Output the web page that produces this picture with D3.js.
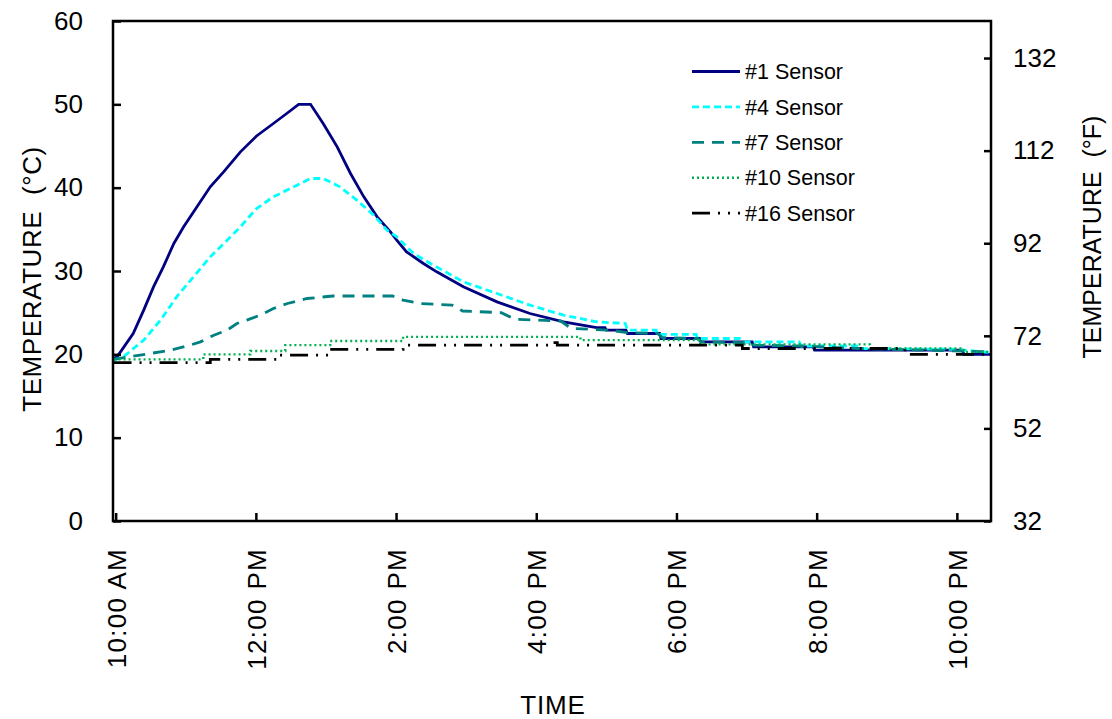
<!DOCTYPE html>
<html>
<head>
<meta charset="utf-8">
<script src="https://cdn.jsdelivr.net/npm/d3@7"></script>
<style>
  body { margin: 0; background: #fff; }
  text { font-family: "Liberation Sans", Arial, sans-serif; fill: #000; }
</style>
</head>
<body>
<svg id="chart" width="1112" height="719"></svg>
<script>
// Time is in hours since midnight; temperatures in °C.
const timeTicks = [10, 12, 14, 16, 18, 20, 22];
const timeLabels = ["10:00 AM", "12:00 PM", "2:00 PM", "4:00 PM", "6:00 PM", "8:00 PM", "10:00 PM"];
const celsiusTicks = [0, 10, 20, 30, 40, 50, 60];
const fahrenheitTicks = [32, 52, 72, 92, 112, 132];
const sensorNames = ["#1 Sensor", "#4 Sensor", "#7 Sensor", "#10 Sensor", "#16 Sensor"];

const sensor1 = [[9.97,19.5],[10.02,19.7],[10.25,22.5],[10.40,25.3],[10.54,28.1],[10.68,30.5],[10.83,33.3],
  [10.97,35.3],[11.16,37.7],[11.35,40.1],[11.54,41.9],[11.78,44.3],[12.01,46.2],[12.25,47.7],[12.44,48.9],
  [12.61,50.0],[12.78,50.0],[12.96,47.7],[13.16,44.9],[13.35,41.7],[13.54,38.9],[13.73,36.5],[13.92,34.7],
  [14.01,33.7],[14.15,32.3],[14.39,30.9],[14.58,29.9],[14.96,28.1],[15.44,26.3],[15.91,24.9],[16.39,23.9],
  [16.86,23.2],[16.98,23.2],[17.00,22.9],[17.28,22.9],[17.30,22.5],[17.76,22.5],[17.78,21.9],[18.33,21.9],
  [18.35,21.5],[19.08,21.5],[19.10,20.9],[19.95,20.9],[19.97,20.5],[22.08,20.5],[22.10,20.0],[22.49,20.0]];

const sensor4 = [[9.97,19.3],[10.11,19.7],[10.40,21.7],[10.64,24.1],[10.87,26.9],[11.11,29.3],[11.35,31.7],
  [11.59,33.7],[11.78,35.3],[12.01,37.5],[12.25,38.9],[12.49,39.9],[12.78,41.1],[12.96,41.1],[13.20,40.1],
  [13.44,38.5],[13.68,36.7],[13.87,34.9],[14.01,34.1],[14.25,32.1],[14.49,30.9],[14.96,28.7],[15.44,27.3],
  [15.91,25.9],[16.39,24.7],[16.86,23.9],[17.27,23.7],[17.30,22.9],[17.71,22.9],[17.73,22.4],[18.28,22.4],
  [18.30,21.9],[18.90,21.9],[18.95,21.5],[19.75,21.5],[19.78,21.0],[20.60,21.0],[20.63,20.7],[22.00,20.6],
  [22.49,20.2]];

const sensor7 = [[9.97,19.4],[10.49,20.1],[10.78,20.5],[11.06,21.1],[11.21,21.5],[11.40,22.3],[11.59,22.9],
  [11.73,23.7],[11.87,24.1],[12.06,24.7],[12.25,25.5],[12.45,26.1],[12.73,26.7],[13.10,27.0],[13.95,27.0],
  [14.10,26.5],[14.35,26.1],[14.80,25.9],[14.95,25.2],[15.50,25.0],[15.70,24.2],[16.35,24.0],[16.50,23.1],
  [17.05,22.9],[17.30,22.6],[17.73,22.5],[17.80,22.0],[18.30,21.9],[18.35,21.5],[19.05,21.4],[19.10,21.1],
  [19.80,21.0],[20.60,20.7],[21.50,20.5],[22.49,20.3]];

const sensor10 = [[9.97,19.4],[11.25,20.0],[11.92,20.4],[12.42,21.1],[13.06,21.6],[14.10,22.1],[16.63,21.7],
  [18.34,21.2],[20.76,20.7],[22.10,20.3],[22.49,20.3]];

const sensor16 = [[9.97,19.0],[11.35,19.4],[12.32,19.9],[13.06,20.6],[14.10,21.1],[16.22,21.4],[16.30,21.1],
  [18.94,20.7],[21.26,20.0],[22.49,20.0]];

const series = [
  { name: sensorNames[0], data: sensor1,  color: "#000080", dash: null,           curve: d3.curveLinear,    width: 2.8 },
  { name: sensorNames[1], data: sensor4,  color: "#00ffff", dash: "7,4",          curve: d3.curveLinear,    width: 2.8 },
  { name: sensorNames[2], data: sensor7,  color: "#008080", dash: "12,8",         curve: d3.curveLinear,    width: 2.8 },
  { name: sensorNames[3], data: sensor10, color: "#00b050", dash: "2,3",          curve: d3.curveStepAfter, width: 2.4 },
  { name: sensorNames[4], data: sensor16, color: "#000000", dash: "18,8,2,8,2,8", curve: d3.curveStepAfter, width: 2.8 }
];

const plot = { left: 113, right: 991, top: 21, bottom: 521 };
const svg = d3.select("#chart");

const x = d3.scaleLinear().domain([9.962, 22.487]).range([plot.left, plot.right]);
const y = d3.scaleLinear().domain([0, 60]).range([plot.bottom, plot.top]);
const yF = d3.scaleLinear().domain([32, 140]).range([plot.bottom, plot.top]);

// clip for data lines
svg.append("defs").append("clipPath").attr("id", "plotClip")
  .append("rect").attr("x", plot.left).attr("y", plot.top)
  .attr("width", plot.right - plot.left).attr("height", plot.bottom - plot.top);

// data lines
const line = d3.line().x(d => x(d[0])).y(d => y(d[1]));
const lines = svg.append("g").attr("clip-path", "url(#plotClip)");
series.forEach(s => {
  lines.append("path")
    .datum(s.data)
    .attr("fill", "none")
    .attr("stroke", s.color)
    .attr("stroke-width", s.width)
    .attr("stroke-dasharray", s.dash)
    .attr("d", line.curve(s.curve));
});

// plot frame
svg.append("rect").attr("x", plot.left).attr("y", plot.top)
  .attr("width", plot.right - plot.left).attr("height", plot.bottom - plot.top)
  .attr("fill", "none").attr("stroke", "#000").attr("stroke-width", 2.5);

function styleAxis(g) {
  g.select(".domain").remove();
  g.selectAll(".tick line").attr("stroke", "#000").attr("stroke-width", 2.5);
  g.selectAll(".tick text").attr("font-size", 26).attr("font-family", "'Liberation Sans', Arial, sans-serif");
}

// left °C axis
svg.append("g").attr("transform", `translate(${plot.left},0)`)
  .call(d3.axisLeft(y).tickValues(celsiusTicks).tickSize(-8).tickPadding(30).tickFormat(d3.format("d")))
  .call(styleAxis);

// right °F axis
svg.append("g").attr("transform", `translate(${plot.right},0)`)
  .call(d3.axisRight(yF).tickValues(fahrenheitTicks).tickSize(-7).tickPadding(22).tickFormat(d3.format("d")))
  .call(styleAxis);

// bottom time axis
const xAxis = svg.append("g").attr("transform", `translate(0,${plot.bottom})`)
  .call(d3.axisBottom(x).tickValues(timeTicks).tickSize(-8).tickFormat((d, i) => timeLabels[i]))
  .call(styleAxis);
xAxis.selectAll(".tick text")
  .attr("transform", "rotate(-90)")
  .attr("text-anchor", "end")
  .attr("x", -27)
  .attr("y", 0)
  .attr("dy", "0.36em")
  .attr("font-size", 26)
  .attr("letter-spacing", "1.3");

// axis titles
svg.append("text").attr("transform", "translate(41,279) rotate(-90)")
  .attr("text-anchor", "middle").attr("font-size", 26).attr("letter-spacing", "0.6")
  .attr("xml:space", "preserve")
  .text("TEMPERATURE  (°C)");
svg.append("text").attr("transform", "translate(1101,237) rotate(-90)")
  .attr("text-anchor", "middle").attr("font-size", 25).attr("xml:space", "preserve")
  .text("TEMPERATURE  (°F)");
svg.append("text").attr("x", 553).attr("y", 705).attr("dy", "0.35em")
  .attr("text-anchor", "middle").attr("font-size", 26).attr("letter-spacing", "0.8").text("TIME");

// legend
const legend = svg.append("g");
series.forEach((s, i) => {
  const ly = 71.5 + i * 35.4;
  legend.append("line")
    .attr("x1", 692).attr("x2", 740).attr("y1", ly).attr("y2", ly)
    .attr("stroke", s.color).attr("stroke-width", s.width)
    .attr("stroke-dasharray", s.dash);
  legend.append("text")
    .attr("x", 745).attr("y", ly).attr("dy", "0.36em")
    .attr("font-size", 21.5)
    .text(s.name);
});
</script>
</body>
</html>
